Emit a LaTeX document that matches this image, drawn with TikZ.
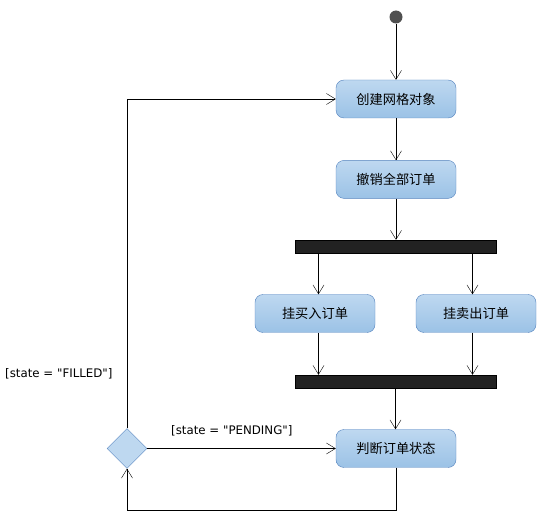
\documentclass[tikz,border=0pt]{standalone}
\usepackage{fontspec}
\setmainfont{DejaVu Sans}[Ligatures=TeXReset]
\newfontfamily\cjk{Noto Sans CJK SC}
\usepackage{tikz}
\usetikzlibrary{arrows.meta,shapes,positioning}
\usepackage{xcolor}
\definecolor{actblue}{RGB}{190,216,240}
\definecolor{actblue2}{RGB}{155,194,230}
\definecolor{actedge}{RGB}{84,130,190}
\definecolor{barblack}{RGB}{34,34,34}
\definecolor{startgray}{RGB}{80,80,80}
\tikzstyle{flow} = [->,>={Straight Barb[length=9pt,width=11pt]},color=black]
\tikzstyle{actbox} = [rectangle, rounded corners=8pt, minimum width=120pt, minimum height=38pt, text centered, draw=actedge, top color=actblue, bottom color=actblue2, font=\cjk\fontsize{13.2}{15}\selectfont]
\tikzstyle{syncbar} = [rectangle, minimum width=201pt, minimum height=13pt, inner sep=0pt, draw=black, fill=barblack]
\tikzstyle{decision} = [diamond, minimum width=40pt, minimum height=40pt, inner sep=0pt, draw=actedge, fill=actblue]
\tikzstyle{startdot} = [circle, minimum size=13pt, inner sep=0pt, fill=startgray]
\tikzstyle{guard} = [font=\fontsize{11.8}{14}\selectfont, inner sep=0pt, anchor=west]

\begin{document}
\begin{tikzpicture}[x=1pt,y=-1pt]
\useasboundingbox (0,0) rectangle (550,524);

% Start
\node[startdot] (start) at (396,17) {};

% Grid setup
\node[actbox] (create) at (396,99) {创建网格对象};
\node[actbox, below=42pt of create] (cancel) {撤销全部订单};

% Fork and the two order branches
\node[syncbar] (fork) at (395.5,246.5) {};
\node[actbox] (buy) at (315,313.5) {挂买入订单};
\node[actbox] (sell) at (476,313.5) {挂卖出订单};
\node[syncbar] (join) at (395.5,381.5) {};

% Status check and decision
\node[actbox] (check) at (396,448.5) {判断订单状态};
\node[decision] (state) at (127,448.5) {};
\coordinate (loop) at (127,510);

% Arrows
\draw[flow] (start) -- (create);
\draw[flow] (create) -- (cancel);
\draw[flow] (cancel.south) -- (cancel.south |- fork.north);
\draw[flow] ([xshift=-77pt]fork.south) -- ([xshift=-77pt]fork.south |- buy.north);
\draw[flow] ([xshift=77pt]fork.south) -- ([xshift=77pt]fork.south |- sell.north);
\draw[flow] ([xshift=-77pt]join.north |- buy.south) -- ([xshift=-77pt]join.north);
\draw[flow] ([xshift=77pt]join.north |- sell.south) -- ([xshift=77pt]join.north);
\draw[flow] (join.south) -- (join.south |- check.north);
\draw[flow] (check.south) |- (loop) -- (state.south);
\draw[flow] (state.north) |- (create.west);
\draw[flow] (state.east) -- (check.west);

% Guards
\node[guard] (filled) at (5,374) {[state = \textquotedbl FILLED\textquotedbl]};
\node[guard] (pending) at (171,431) {[state = \textquotedbl PENDING\textquotedbl]};
\end{tikzpicture}
\end{document}
